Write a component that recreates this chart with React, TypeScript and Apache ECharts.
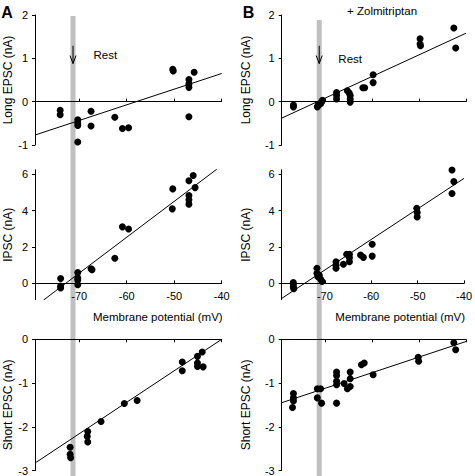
import React, { useEffect, useRef } from "react";
import * as echarts from "echarts";

// Membrane potential (mV) vs current (nA)
const longA: number[][] = [
  [-74.0, -0.2], [-74.0, -0.3], [-70.3, -0.42], [-70.3, -0.5], [-70.3, -0.55], [-70.3, -0.93],
  [-67.5, -0.22], [-67.5, -0.56], [-62.5, -0.36], [-60.9, -0.62], [-59.6, -0.6],
  [-50.3, 0.75], [-50.2, 0.71], [-46.9, 0.51], [-46.9, 0.41], [-46.9, 0.33], [-46.9, -0.35], [-45.8, 0.68],
];
const longAFit: number[][] = [[-79.3, -0.77], [-40, 0.65]];

const ipscA: number[][] = [
  [-73.9, 0.27], [-73.9, -0.15], [-73.9, -0.25], [-70.3, 0.6], [-70.3, 0.3], [-70.3, 0.18], [-70.3, -0.08],
  [-67.5, 0.8], [-67.3, 0.75], [-62.5, 1.38], [-60.9, 3.11], [-59.6, 2.99], [-50.4, 4.1], [-50.3, 5.2],
  [-46.9, 5.65], [-46.9, 4.84], [-46.9, 4.6], [-46.9, 4.36], [-46.0, 5.94], [-45.6, 5.27],
];
const ipscAFit: number[][] = [[-77.5, -0.92], [-40.9, 6.31]];

const shortA: number[][] = [
  [-71.9, -2.47], [-71.9, -2.63], [-71.8, -2.71], [-68.2, -2.11], [-68.3, -2.22], [-68.2, -2.35],
  [-65.4, -1.88], [-60.5, -1.47], [-57.8, -1.4], [-48.3, -0.52], [-48.3, -0.72], [-45.1, -0.39],
  [-45.1, -0.54], [-45.1, -0.62], [-44.1, -0.29], [-43.9, -0.63],
];
const shortAFit: number[][] = [[-79.3, -2.83], [-40, 0]];

const longB: number[][] = [
  [-76.8, -0.08], [-76.8, -0.12], [-71.7, -0.12], [-71.5, -0.08], [-71.0, -0.05], [-70.8, 0.0], [-70.6, 0.03],
  [-67.6, 0.21], [-67.6, 0.14], [-67.6, 0.06], [-65.3, 0.25], [-64.9, 0.2], [-64.7, 0.14], [-64.7, 0.06],
  [-64.7, -0.01], [-62.0, 0.32], [-61.6, 0.32], [-59.8, 0.62], [-59.8, 0.44], [-49.8, 1.45], [-49.8, 1.33],
  [-49.7, 1.29], [-42.6, 1.7], [-42.2, 1.24],
];
const longBFit: number[][] = [[-79.3, -0.38], [-40, 1.58]];

const ipscB: number[][] = [
  [-76.8, 0.05], [-76.8, -0.08], [-76.8, -0.2], [-76.7, -0.3], [-71.7, 0.83], [-71.7, 0.55], [-71.5, 0.37],
  [-71.2, 0.45], [-70.9, 0.22], [-70.6, 0.1], [-67.6, 1.19], [-67.6, 1.0], [-67.6, 0.83], [-66.0, 1.05],
  [-65.3, 1.6], [-64.7, 1.6], [-64.7, 1.41], [-64.7, 1.19], [-62.3, 1.56], [-61.7, 1.43], [-59.8, 2.15],
  [-59.8, 1.5], [-50.2, 4.13], [-50.1, 3.9], [-50.1, 3.65], [-42.6, 6.24], [-42.2, 5.6], [-42.6, 4.95],
];
const ipscBFit: number[][] = [[-79.3, -0.83], [-40, 5.78]];

const shortB: number[][] = [
  [-76.8, -1.24], [-76.8, -1.34], [-76.8, -1.41], [-77.0, -1.56], [-71.7, -1.13], [-71.7, -1.34],
  [-71.0, -1.13], [-70.8, -1.46], [-67.6, -0.75], [-67.6, -0.83], [-67.6, -0.96], [-67.6, -1.04],
  [-67.6, -1.46], [-66.0, -1.01], [-65.3, -1.13], [-64.7, -0.75], [-64.7, -0.9], [-64.7, -1.08],
  [-62.3, -0.58], [-61.7, -0.54], [-59.8, -0.81], [-50.2, -0.41], [-50.1, -0.5], [-42.6, -0.08], [-42.2, -0.24],
];
const shortBFit: number[][] = [[-79.3, -1.45], [-40, -0.05]];

const xTicks = [-70, -60, -50, -40];
const ipscTicks = [0, 2, 4, 6];
const restPotential = -71.3;
const restHalfWidth = 0.53;
const xName = "Membrane potential (mV)";
const yNames = ["Long EPSC (nA)", "IPSC (nA)", "Short EPSC (nA)"];

const FONT = "Liberation Sans, Arial, sans-serif";

export default function App() {
  const ref = useRef<HTMLDivElement>(null);
  useEffect(() => {
    if (!ref.current) return;
    const chart = echarts.init(ref.current, undefined, { renderer: "svg" });

    const colLeft = [35, 281.7];
    const colWidth = [186.7, 184.3];
    const rows = [
      { top: 15, height: 130, min: -1, max: 2 },
      { top: 169.8, height: 129.9, min: -0.9, max: 6.25 },
      { top: 339.3, height: 133, min: -3, max: 0 },
    ];
    const grids: any[] = [];
    const xAxes: any[] = [];
    const yAxes: any[] = [];
    const panelData = [
      [longA, ipscA, shortA],
      [longB, ipscB, shortB],
    ];
    const panelFits = [
      [longAFit, ipscAFit, shortAFit],
      [longBFit, ipscBFit, shortBFit],
    ];
    const series: any[] = [];
    let gi = 0;
    for (let c = 0; c < 2; c++) {
      for (let r = 0; r < 3; r++) {
        const row = rows[r];
        grids.push({ left: colLeft[c], top: row.top, width: colWidth[c], height: row.height, containLabel: false });
        xAxes.push({
          type: "value",
          gridIndex: gi,
          min: -79.3,
          max: -40,
          position: r === 2 ? "top" : "bottom",
          splitLine: { show: false },
          axisLine: { onZero: true, lineStyle: { color: "#000", width: 1 } },
          axisTick: { inside: true, length: 3, customValues: xTicks, lineStyle: { color: "#000" } },
          axisLabel: {
            show: r === 1,
            customValues: xTicks,
            color: "#000",
            fontSize: 11,
            fontFamily: FONT,
            margin: -9.5,
          },
        });
        const yAx: any = {
          type: "value",
          gridIndex: gi,
          min: row.min,
          max: row.max,
          splitLine: { show: false },
          axisLine: { show: true, onZero: false, lineStyle: { color: "#000", width: 1 } },
          axisTick: { show: true, inside: false, length: 3, lineStyle: { color: "#000" } },
          axisLabel: { color: "#000", fontSize: 11, fontFamily: FONT, margin: 7 },
          name: yNames[r],
          nameLocation: "middle",
          nameGap: c === 0 ? 21 : 30,
          nameTextStyle: { color: "#000", fontSize: 12, fontFamily: FONT },
        };
        if (r === 1) {
          yAx.axisTick.customValues = ipscTicks;
          yAx.axisLabel.customValues = ipscTicks;
        } else {
          yAx.interval = 1;
        }
        yAxes.push(yAx);
        series.push({
          type: "line",
          xAxisIndex: gi,
          yAxisIndex: gi,
          data: panelFits[c][r],
          symbol: "none",
          lineStyle: { color: "#000", width: 1 },
          z: 3,
        });
        series.push({
          type: "scatter",
          xAxisIndex: gi,
          yAxisIndex: gi,
          data: panelData[c][r],
          symbolSize: 7,
          itemStyle: { color: "#000", opacity: 1 },
          z: 4,
        });
        gi++;
      }
    }

    chart.setOption({
      animation: false,
      textStyle: { fontFamily: FONT },
      grid: grids,
      xAxis: xAxes,
      yAxis: yAxes,
      series,
    });

    const px = (g: number, x: number, y: number) => chart.convertToPixel({ gridIndex: g } as any, [x, y]) as number[];
    const graphics: any[] = [];
    const barTops = [16, 20];
    for (let c = 0; c < 2; c++) {
      const g0 = c * 3;
      const xa = px(g0, restPotential - restHalfWidth, 0)[0];
      const xb = px(g0, restPotential + restHalfWidth, 0)[0];
      graphics.push({
        type: "rect",
        shape: { x: xa, y: barTops[c], width: xb - xa, height: 476 - barTops[c] },
        style: { fill: "#c0c0c0" },
        z: -10,
        silent: true,
      });
      const a1 = px(g0, restPotential, 1.29);
      const a2 = px(g0, restPotential, 0.88);
      graphics.push({
        type: "line",
        shape: { x1: a1[0], y1: a1[1], x2: a2[0], y2: a2[1] },
        style: { stroke: "#000", lineWidth: 1 },
        z: 10,
      });
      graphics.push({
        type: "polyline",
        shape: { points: [[a2[0] - 3, a2[1] - 8], [a2[0], a2[1]], [a2[0] + 3, a2[1] - 8]] },
        style: { stroke: "#000", lineWidth: 1, fill: "none" },
        z: 10,
      });
      const rest = c === 0 ? px(0, -64.5, 1.08) : px(3, -64.7, 0.99);
      graphics.push({
        type: "text",
        x: rest[0],
        y: rest[1],
        style: { text: "Rest", fill: "#000", fontSize: 11.5, fontFamily: FONT, align: "center", verticalAlign: "middle" },
        z: 10,
      });
      const mEnd = px(c * 3 + 1, -40, 0);
      graphics.push({
        type: "text",
        x: mEnd[0] + 1,
        y: mEnd[1] + 34,
        style: { text: xName, fill: "#000", fontSize: 11.5, fontFamily: FONT, align: "right", verticalAlign: "middle" },
        z: 10,
      });
    }
    const zol = px(3, -57.9, 2.1);
    graphics.push({
      type: "text",
      x: zol[0],
      y: zol[1],
      style: { text: "+ Zolmitriptan", fill: "#000", fontSize: 11.5, fontFamily: FONT, align: "center", verticalAlign: "middle" },
      z: 10,
    });
    graphics.push({
      type: "text",
      x: 7,
      y: 12,
      style: { text: "A", fill: "#000", fontSize: 16, fontWeight: "bold", fontFamily: FONT, align: "center", verticalAlign: "middle" },
    });
    graphics.push({
      type: "text",
      x: 248.5,
      y: 12.5,
      style: { text: "B", fill: "#000", fontSize: 16, fontWeight: "bold", fontFamily: FONT, align: "center", verticalAlign: "middle" },
    });
    chart.setOption({ graphic: graphics });

    return () => chart.dispose();
  }, []);
  return (
    <div
      ref={ref}
      style={{ position: "absolute", left: 0, top: 0, width: 475, height: 476, background: "#fff" }}
    />
  );
}
